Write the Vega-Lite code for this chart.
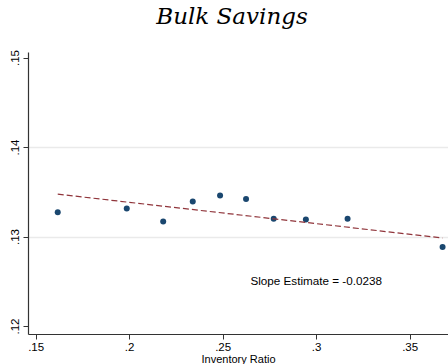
{
  "$schema": "https://vega.github.io/schema/vega-lite/v6.json",
  "width": 420,
  "height": 282,
  "autosize": "none",
  "padding": {"left": 28, "top": 52, "right": 0, "bottom": 30},
  "background": "white",
  "config": {"view": {"stroke": null}},
  "title": {
    "text": "Bulk Savings",
    "font": "DejaVu Serif",
    "fontStyle": "italic",
    "fontWeight": "normal",
    "fontSize": 23,
    "color": "black",
    "anchor": "middle",
    "dx": -6,
    "offset": 21
  },
  "datasets": {
    "points": [
      {"x": 0.1618, "y": 0.13272},
      {"x": 0.1987, "y": 0.13313},
      {"x": 0.2182, "y": 0.13168},
      {"x": 0.2340, "y": 0.13391},
      {"x": 0.2486, "y": 0.13458},
      {"x": 0.2625, "y": 0.13420},
      {"x": 0.2773, "y": 0.13197},
      {"x": 0.2945, "y": 0.13190},
      {"x": 0.3168, "y": 0.13197},
      {"x": 0.3676, "y": 0.12884}
    ],
    "fit": [
      {"x": 0.1618, "y": 0.13473},
      {"x": 0.3676, "y": 0.12983}
    ],
    "label": [
      {"x": 0.3, "y": 0.1250, "text": "Slope Estimate = -0.0238"}
    ]
  },
  "layer": [
    {
      "data": {"name": "points"},
      "mark": {"type": "point", "filled": true, "opacity": 1, "size": 36, "color": "#1a476f"},
      "encoding": {
        "x": {
          "field": "x", "type": "quantitative",
          "scale": {"domain": [0.1459, 0.3705], "nice": false, "zero": false},
          "axis": {
            "title": "Inventory Ratio",
            "values": [0.15, 0.2, 0.25, 0.3, 0.35],
            "labelExpr": "replace(format(datum.value, '.2~f'), /^0/, '')",
            "grid": false,
            "domainColor": "#333333",
            "domainWidth": 1.2,
            "tickColor": "#333333",
            "tickSize": 5,
            "labelFont": "Liberation Sans",
            "labelFontSize": 11.5,
            "labelColor": "black",
            "labelPadding": 2,
            "titleFont": "Liberation Sans",
            "titleFontSize": 11,
            "titleFontWeight": "normal",
            "titleColor": "black",
            "titlePadding": 1
          }
        },
        "y": {
          "field": "y", "type": "quantitative",
          "scale": {"domain": [0.119106, 0.150616], "nice": false, "zero": false},
          "axis": {
            "title": null,
            "values": [0.12, 0.13, 0.14, 0.15],
            "labelExpr": "replace(format(datum.value, '.2~f'), /^0/, '')",
            "grid": true,
            "gridColor": "#eaeaea",
            "gridWidth": 1.5,
            "gridOpacity": {"condition": {"test": "datum.value > 0.125 && datum.value < 0.145", "value": 1}, "value": 0},
            "domainColor": "#333333",
            "domainWidth": 1.2,
            "tickColor": "#333333",
            "tickSize": 5,
            "labelAngle": -90,
            "labelAlign": "center",
            "labelBaseline": "bottom",
            "labelFont": "Liberation Sans",
            "labelFontSize": 11.5,
            "labelColor": "black",
            "labelPadding": 3
          }
        }
      }
    },
    {
      "data": {"name": "fit"},
      "mark": {"type": "line", "color": "#90353b", "strokeDash": [6, 3], "strokeWidth": 1.2},
      "encoding": {
        "x": {"field": "x", "type": "quantitative"},
        "y": {"field": "y", "type": "quantitative"}
      }
    },
    {
      "data": {"name": "label"},
      "mark": {"type": "text", "font": "Liberation Sans", "fontSize": 11.7, "color": "black", "align": "center", "baseline": "middle"},
      "encoding": {
        "x": {"field": "x", "type": "quantitative"},
        "y": {"field": "y", "type": "quantitative"},
        "text": {"field": "text"}
      }
    }
  ]
}
